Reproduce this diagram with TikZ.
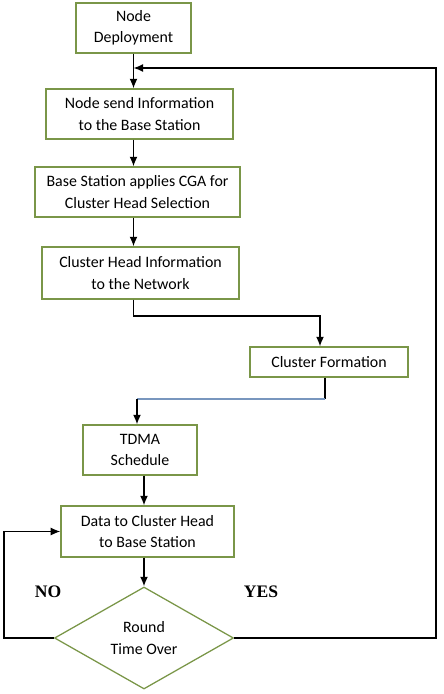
\documentclass[tikz,border=0pt]{standalone}
\usepackage{fontspec}
\setmainfont{Carlito}
\newfontfamily\yesnofont{Liberation Serif}
\usetikzlibrary{positioning, calc, shapes.geometric, arrows.meta}

\definecolor{boxgreen}{RGB}{122,150,72}
\definecolor{lineblue}{RGB}{120,150,190}

\begin{document}
\begin{tikzpicture}[x=0.025cm, y=-0.025cm,
		font=\fontsize{11.3}{15}\selectfont,
		box/.style={rectangle, draw=boxgreen, line width=0.9pt, align=center, inner sep=0pt, minimum height=1.25cm},
		decision/.style={diamond, draw=boxgreen, line width=0.9pt, align=center, inner sep=0pt, minimum width=4.475cm, minimum height=2.55cm},
		link/.style={line width=1pt, -{Latex[length=2.4mm, width=2mm]}},
		yesno/.style={font=\yesnofont\bfseries\fontsize{12.5}{14}\selectfont}]
	\useasboundingbox (0,0) rectangle (443,694);

	\node[box, minimum width=2.875cm] (deploy) at (133.5,28) {Node\\Deployment};
	\node[box, minimum width=4.675cm] (send) at (139.5,114) {Node send Information\\to the Base Station};
	\node[box, minimum width=5.125cm] (cga) at (137.5,192) {Base Station applies CGA for\\Cluster Head Selection};
	\node[box, minimum width=4.925cm, minimum height=1.3cm] (chinfo) at (140.5,273) {Cluster Head Information\\to the Network};
	\node[box, minimum width=3.95cm, minimum height=0.75cm] (formation) at (329,362) {Cluster Formation};
	\node[box, minimum width=2.85cm] (tdma) at (140,450) {TDMA\\Schedule};
	\node[box, minimum width=4.325cm, minimum height=1.275cm] (data) at (147.5,531.5) {Data to Cluster Head\\to Base Station};
	\node[decision] (round) at (144,638) {Round\\Time Over};

	\node[yesno] (no) at (48,592) {NO};
	\node[yesno] (yes) at (261,592) {YES};

	\coordinate (yescorner) at (436,68);
	\coordinate (nocorner) at (4,531.5);
	\coordinate (cfin) at (320,316);
	\coordinate (cfout) at (325,399);
	\coordinate (tdmain) at (137,399);

	\draw[link] (deploy.south) -- (deploy.south |- send.north);
	\draw[link] (send.south -| deploy.south) -- (deploy.south |- cga.north);
	\draw[link] (cga.south -| deploy.south) -- (deploy.south |- chinfo.north);
	\draw[link] (chinfo.south -| deploy.south) |- (cfin) -- (cfin |- formation.north);
	\draw[line width=1pt] (formation.south -| cfout) -- (cfout);
	\draw[line width=1pt, lineblue] (cfout) -- (tdmain);
	\draw[link] (tdmain) -- (tdmain |- tdma.north);
	\draw[link] (tdma.south -| round.north) -- (round.north |- data.north);
	\draw[link] (data.south -| round.north) -- (round.north);

	\draw[link] (round.west) -| (nocorner) -- (data.west);
	\draw[link] (round.east) -| (yescorner) -- (deploy.south |- yescorner);
\end{tikzpicture}
\end{document}
